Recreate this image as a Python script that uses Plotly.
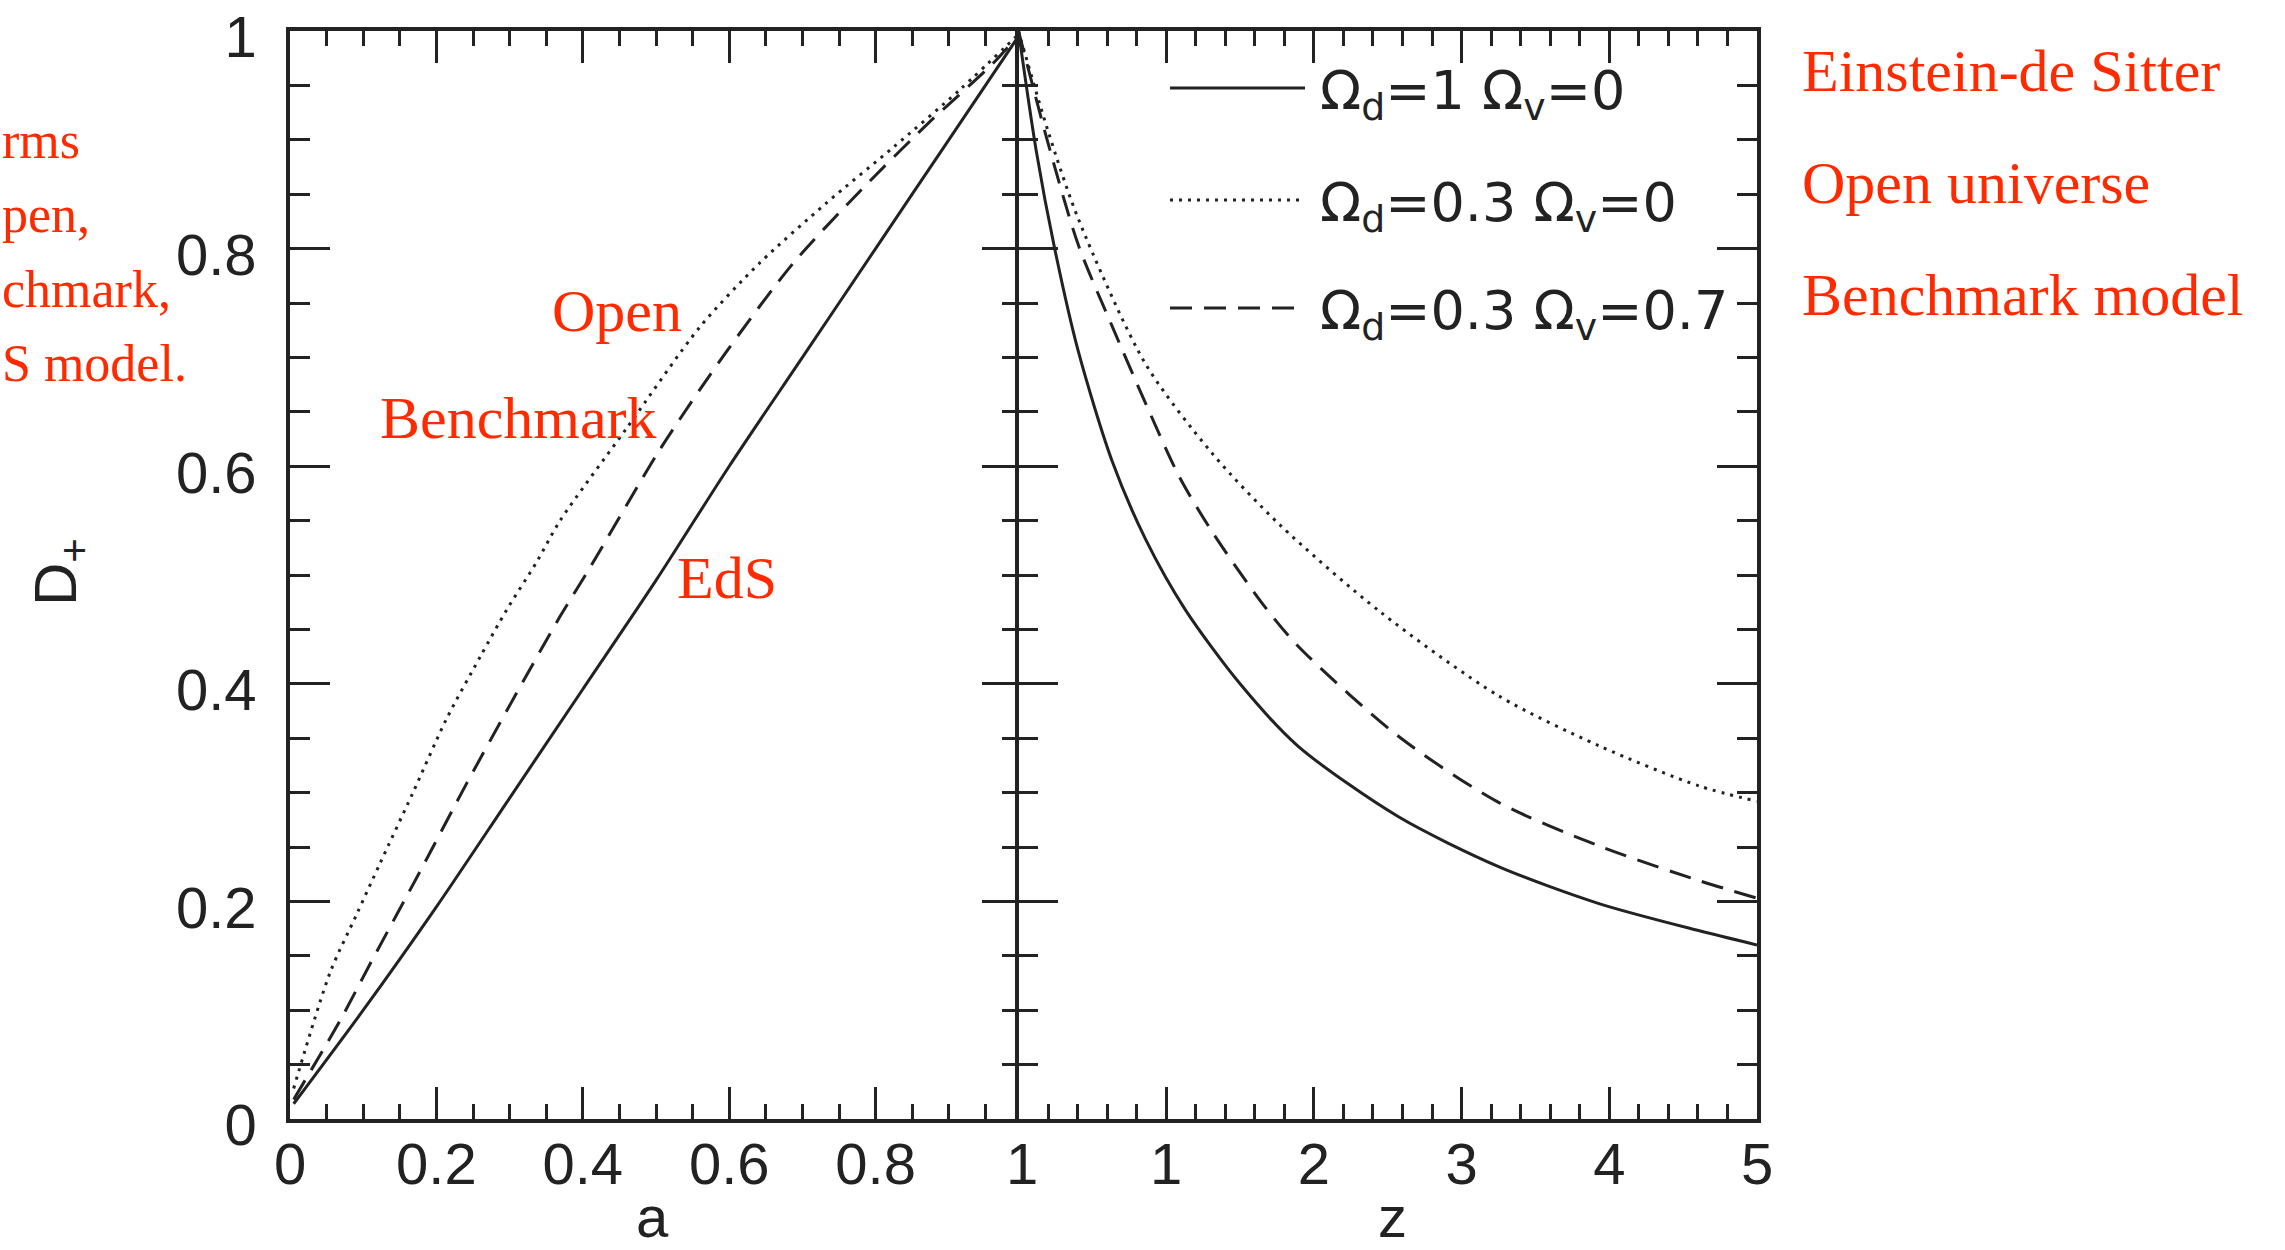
import plotly.graph_objects as go

# ---------------- data ----------------
a_tickvals = [0, 0.2, 0.4, 0.6, 0.8, 1]
a_ticktext = ["0", "0.2", "0.4", "0.6", "0.8", "1"]
z_tickvals = [1, 2, 3, 4, 5]
z_ticktext = ["1", "2", "3", "4", "5"]
d_tickvals = [0, 0.2, 0.4, 0.6, 0.8, 1]
d_ticktext = ["0", "0.2", "0.4", "0.6", "0.8", "1"]

# left panel: D+ versus scale factor a
eds_a = [0.005, 0.1, 0.2, 0.3, 0.4, 0.5, 0.6, 0.7, 0.8, 0.9, 1.0]
eds_D_a = [0.014, 0.10, 0.195, 0.295, 0.395, 0.495, 0.60, 0.70, 0.80, 0.90, 1.0]

open_a = [0.005, 0.055, 0.091, 0.123, 0.168, 0.214, 0.26, 0.296, 0.337, 0.369,
          0.46, 0.56, 0.642, 0.733, 0.824, 0.915, 1.0]
open_D_a = [0.028, 0.135, 0.188, 0.235, 0.30, 0.368, 0.425, 0.468, 0.512, 0.55,
            0.635, 0.728, 0.787, 0.842, 0.893, 0.946, 1.0]

bench_a = [0.005, 0.068, 0.109, 0.178, 0.241, 0.305, 0.369, 0.41, 0.505, 0.597,
           0.688, 0.779, 0.87, 0.96, 1.0]
bench_D_a = [0.018, 0.09, 0.142, 0.228, 0.308, 0.386, 0.462, 0.507, 0.615, 0.706,
             0.787, 0.853, 0.914, 0.97, 1.0]

# right panel: D+ versus redshift z
eds_z = [0, 0.12, 0.245, 0.406, 0.633, 0.86, 1.13, 1.5, 1.89, 2.57, 3.25, 3.93, 4.61, 5.0]
eds_D_z = [1.0, 0.89, 0.80, 0.705, 0.605, 0.533, 0.468, 0.40, 0.343, 0.278, 0.232, 0.198, 0.173, 0.16]

open_z = [0, 0.2, 0.406, 0.86, 1.31, 1.77, 2.45, 3.25, 3.93, 4.61, 5.0]
open_D_z = [1.0, 0.908, 0.827, 0.694, 0.612, 0.546, 0.466, 0.389, 0.343, 0.306, 0.292]

bench_z = [0, 0.2, 0.406, 0.633, 0.86, 1.09, 1.31, 1.65, 1.89, 2.57, 3.25, 3.93, 4.61, 5.0]
bench_D_z = [1.0, 0.897, 0.803, 0.729, 0.658, 0.59, 0.54, 0.474, 0.435, 0.352, 0.291, 0.251, 0.219, 0.203]

legend_labels = ["Ω<sub>d</sub>=1 Ω<sub>v</sub>=0",
                 "Ω<sub>d</sub>=0.3 Ω<sub>v</sub>=0",
                 "Ω<sub>d</sub>=0.3 Ω<sub>v</sub>=0.7"]
model_names = ["Einstein-de Sitter", "Open universe", "Benchmark model"]

# ---------------- styling ----------------
INK = "#222222"
RED = "#ff2a00"
SANS = "Liberation Sans, Arial, Helvetica, sans-serif"
WIDE = "DejaVu Sans, Liberation Sans, sans-serif"
SERIF = "Liberation Serif, Times New Roman, serif"
DOT = "3px,6px"
DASH = "22px,12px"
LW = 3.5
styles = [dict(color=INK, width=3, dash="solid"),
          dict(color=INK, width=3, dash=DOT),
          dict(color=INK, width=3, dash=DASH)]

W, H = 2285, 1250
ML, MR, MT, MB = 290, 528, 31, 131
PW, PH = W - ML - MR, H - MT - MB


def px(xp):
    return (xp - ML) / PW


def py(yp):
    return (H - MB - yp) / PH


fig = go.Figure()
left_sets = [(eds_a, eds_D_a), (open_a, open_D_a), (bench_a, bench_D_a)]
right_sets = [(eds_z, eds_D_z), (open_z, open_D_z), (bench_z, bench_D_z)]
for i, (xs, ys) in enumerate(left_sets):
    fig.add_trace(go.Scatter(x=xs, y=ys, mode="lines", line=dict(**styles[i], shape="spline", smoothing=0.8),
                             xaxis="x", yaxis="y", showlegend=False, name=model_names[i]))
for i, (xs, ys) in enumerate(right_sets):
    fig.add_trace(go.Scatter(x=xs, y=ys, mode="lines", line=dict(**styles[i], shape="spline", smoothing=0.8),
                             xaxis="x2", yaxis="y2", showlegend=False, name=model_names[i]))

split = (1022 - ML) / PW
split2 = split - LW / PW   # let the two junction lines coincide
common_x = dict(ticks="inside", ticklen=32, tickwidth=3, tickcolor=INK,
                showline=True, linewidth=LW, linecolor=INK, mirror="ticks",
                showgrid=False, zeroline=False, ticklabeloverflow="allow", automargin=False,
                tickfont=dict(family=SANS, size=58, color=INK), ticklabelstandoff=-8)
common_y = dict(ticks="inside", ticklen=40, tickwidth=3, tickcolor=INK,
                showline=True, linewidth=LW, linecolor=INK, mirror="ticks",
                showgrid=False, zeroline=False, range=[0, 1],
                ticklabeloverflow="allow", automargin=False,
                tickvals=d_tickvals, ticktext=d_ticktext,
                minor=dict(dtick=0.05, tick0=0, ticks="inside", ticklen=20, tickwidth=2.5, tickcolor=INK),
                tickfont=dict(family=SANS, size=58, color=INK))

fig.update_layout(
    width=W, height=H,
    margin=dict(l=ML, r=MR, t=MT, b=MB, autoexpand=False),
    paper_bgcolor="white", plot_bgcolor="white",
    showlegend=False,
    xaxis=dict(domain=[0, split], range=[0, 1], anchor="y",
               tickvals=a_tickvals, ticktext=a_ticktext,
               minor=dict(dtick=0.05, tick0=0, ticks="inside", ticklen=15, tickwidth=2.5, tickcolor=INK),
               **common_x),
    xaxis2=dict(domain=[split2, 1], range=[0, 5], anchor="y2",
                tickvals=z_tickvals, ticktext=z_ticktext,
                minor=dict(dtick=0.2, tick0=0, ticks="inside", ticklen=15, tickwidth=2.5, tickcolor=INK),
                **common_x),
    yaxis=dict(anchor="x", ticklabelstandoff=18, ticklabelshift=6, **common_y),
    yaxis2=dict(anchor="x2", showticklabels=False, **common_y),
)

ann = []
# axis titles
ann.append(dict(text="a", x=px(652), y=py(1216), xref="paper", yref="paper",
                showarrow=False, font=dict(family=SANS, size=58, color=INK),
                xanchor="center", yanchor="middle"))
ann.append(dict(text="z", x=px(1392), y=py(1216), xref="paper", yref="paper",
                showarrow=False, font=dict(family=SANS, size=58, color=INK),
                xanchor="center", yanchor="middle"))
ann.append(dict(text="D<sub>+</sub>", x=px(60), y=py(572), xref="paper", yref="paper",
                showarrow=False, textangle=-90, font=dict(family=SANS, size=60, color=INK),
                xanchor="center", yanchor="middle"))

# legend (drawn inside the right panel)
leg_y = [88, 200, 308]
for i in range(3):
    fig.add_shape(type="line", xref="paper", yref="paper",
                  x0=px(1170), x1=px(1305), y0=py(leg_y[i]), y1=py(leg_y[i]),
                  line=dict(color=INK, width=3, dash=styles[i]["dash"]))
    ann.append(dict(text=legend_labels[i], x=px(1318), y=py(leg_y[i] + 6), xref="paper", yref="paper",
                    showarrow=False, font=dict(family=WIDE, size=54, color=INK),
                    xanchor="left", yanchor="middle"))

# red side labels
for txt, yc in zip(model_names, [71, 183, 295]):
    ann.append(dict(text=txt, x=px(1800), y=py(yc), xref="paper", yref="paper",
                    showarrow=False, font=dict(family=SERIF, size=60, color=RED),
                    xanchor="left", yanchor="middle"))

# red in-plot labels
for txt, xc, yc in [("Open", 617, 311), ("Benchmark", 518, 418), ("EdS", 727, 578)]:
    ann.append(dict(text=txt, x=px(xc), y=py(yc), xref="paper", yref="paper",
                    showarrow=False, font=dict(family=SERIF, size=60, color=RED),
                    xanchor="center", yanchor="middle"))

# red note fragments visible at the left edge of the page
for txt, yc in [("rms", 141), ("pen,", 214), ("chmark,", 289), ("S model.", 364)]:
    ann.append(dict(text=txt, x=px(0), y=py(yc), xref="paper", yref="paper",
                    showarrow=False, font=dict(family=SERIF, size=52, color=RED),
                    xanchor="left", yanchor="middle"))

fig.update_layout(annotations=ann)
fig.write_html("out.html")
